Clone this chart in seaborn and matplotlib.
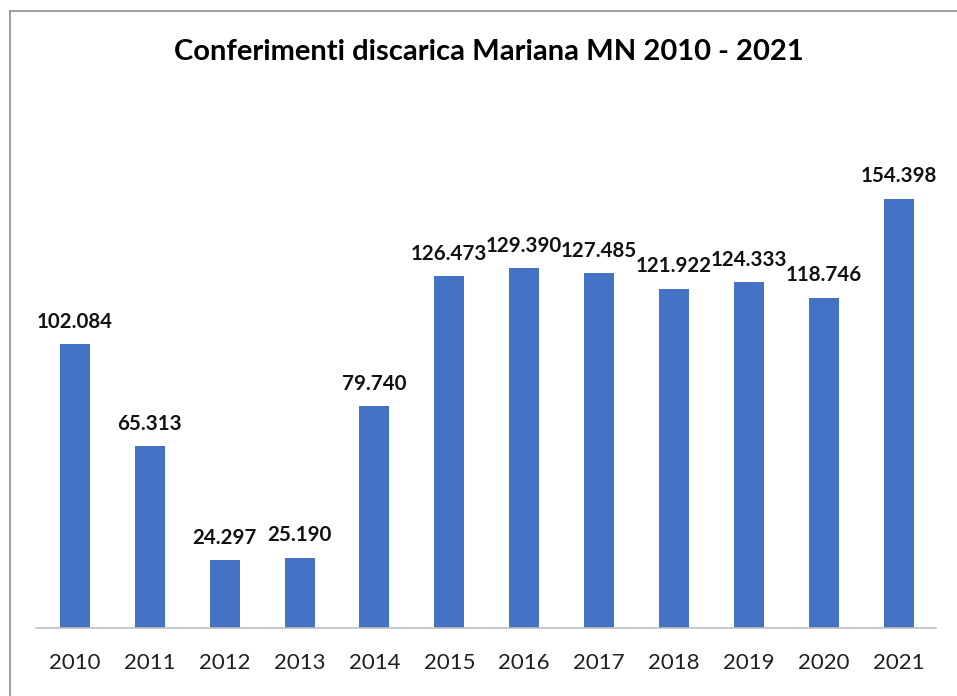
import matplotlib
matplotlib.use("Agg")
import matplotlib.pyplot as plt
import seaborn as sns
import pandas as pd
from matplotlib.lines import Line2D

years = ["2010", "2011", "2012", "2013", "2014", "2015", "2016", "2017", "2018", "2019", "2020", "2021"]
values = [102084, 65313, 24297, 25190, 79740, 126473, 129390, 127485, 121922, 124333, 118746, 154398]
labels = ["102.084", "65.313", "24.297", "25.190", "79.740", "126.473", "129.390", "127.485",
          "121.922", "124.333", "118.746", "154.398"]
title = "Conferimenti discarica Mariana MN 2010 - 2021"

sns.set_theme(style="white")
plt.rcParams['font.family'] = ['Lato', 'DejaVu Sans']

W, H = 957, 696
fig = plt.figure(figsize=(W / 100, H / 100), dpi=100)
fig.patch.set_facecolor("white")

left, right = 36 / W, 936 / W
bottom = 1 - 628 / H
ymax = 180000
px_per = (628 - 198.5) / 154398
top_px = 628 - ymax * px_per
top = 1 - top_px / H
ax = fig.add_axes([left, bottom, right - left, top - bottom])

df = pd.DataFrame({"year": years, "value": values})
sns.barplot(data=df, x="year", y="value", color="#4472C4", width=0.4, ax=ax,
            saturation=1, edgecolor="none")
ax.set_xlim(-0.52, 11.5)
ax.set_ylim(0, ymax)

for i, (v, lab) in enumerate(zip(values, labels)):
    ax.annotate(lab, (i, v), xytext=(0, 9), textcoords="offset points",
                ha="center", va="bottom", fontsize=14.8, fontweight="bold", color="#111111")

for s in ["top", "right", "left"]:
    ax.spines[s].set_visible(False)
ax.spines["bottom"].set_color("#bfbfbf")
ax.spines["bottom"].set_linewidth(1.2)
ax.set_yticks([])
ax.set_xlabel("")
ax.set_ylabel("")
ax.tick_params(axis="x", length=0, pad=18, labelsize=16, labelcolor="#1f1f1f")

fig.text(489 / W, 1 - 52 / H, title, ha="center", va="center", fontsize=21,
         fontweight="bold", color="#000000")

# outer border (left and top visible)
fig.add_artist(Line2D([10 / W, 10 / W], [1 - 11 / H, 0], transform=fig.transFigure,
                      color="#8c8c8c", linewidth=1.2))
fig.add_artist(Line2D([10 / W, 1], [1 - 11 / H, 1 - 11 / H], transform=fig.transFigure,
                      color="#8c8c8c", linewidth=1.2))

fig.savefig("out.png", dpi=100)
